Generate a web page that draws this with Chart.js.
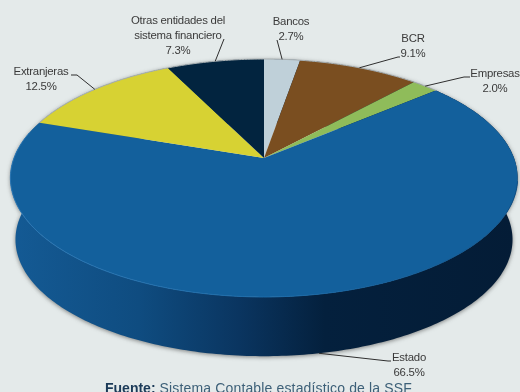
<!DOCTYPE html>
<html>
<head>
<meta charset="utf-8">
<title>Tenencia</title>
<script src="https://cdn.jsdelivr.net/npm/chart.js@4"></script>
<style>
  html, body { margin: 0; padding: 0; background: #e4eaea; overflow: hidden; }
  canvas { display: block; }
</style>
</head>
<body>
<canvas id="myChart" width="520" height="392"></canvas>
<script>
const categories = ["Bancos", "BCR", "Empresas", "Estado", "Extranjeras", "Otras entidades del sistema financiero"];
const shares = [2.7, 9.1, 2.0, 66.5, 12.5, 7.3];
const sliceColors = ["#bfd0d9", "#7a4e20", "#8fbc5a", "#13609c", "#d7d233", "#02243f"];
const footerBold = "Fuente:";
const footerRest = " Sistema Contable estadístico de la SSF";

// label anchors: text lines, centre x, first baseline, elbow of the leader
const labelLines = [["Bancos", "2.7%"], ["BCR", "9.1%"], ["Empresas", "2.0%"], ["Estado", "66.5%"], ["Extranjeras", "12.5%"], ["Otras entidades del", "sistema financiero", "7.3%"]];
const labelX = [291, 413, 495, 409, 41, 178];
const labelY = [25, 42, 77, 361, 75, 24];
const leaderEnd = [[277, 40], [398, 57], [464, 77], [388, 361], [77, 75], [224, 39]];
const leaderTail = [[277, 40], [400, 57], [470, 77], [391, 361], [71, 75], [224, 39]];

// pie disc seen in perspective
const cx = 264, cy = 158, rx = 250, ry = 115.6, tilt = 0.168;
const wallDrop = 62, wallScale = 0.98;

function project(angle, r, drop, scale) {
  // chart.js angles start at -PI/2 for 12 o'clock
  const u = Math.cos(angle) * r, v = Math.sin(angle) * r;
  const d = 1 - tilt * v;
  return [cx + scale * rx * u / d, cy + drop + scale * ry * v / d];
}

function rimPoints(start, end, drop, scale) {
  const n = Math.max(2, Math.ceil((end - start) / 0.015));
  const pts = [];
  for (let i = 0; i <= n; i++) pts.push(project(start + (end - start) * i / n, 1, drop, scale));
  return pts;
}

function trace(ctx, pts) {
  pts.forEach((p, i) => i ? ctx.lineTo(p[0], p[1]) : ctx.moveTo(p[0], p[1]));
}

const disc3d = {
  id: "disc3d",
  beforeDatasetDraw() { return false; },
  afterDatasetsDraw(chart) {
    const ctx = chart.ctx;
    const arcs = chart.getDatasetMeta(0).data;
    ctx.save();

    // side wall
    const wall = ctx.createLinearGradient(14, 0, 515, 0);
    wall.addColorStop(0, "#145a94");
    wall.addColorStop(0.25, "#0f4c80");
    wall.addColorStop(0.45, "#0a3560");
    wall.addColorStop(0.62, "#04203d");
    wall.addColorStop(1, "#041c36");
    arcs.forEach((arc) => {
      const top = rimPoints(arc.startAngle, arc.endAngle, 0, 1);
      const low = rimPoints(arc.startAngle, arc.endAngle, wallDrop, wallScale);
      ctx.beginPath();
      trace(ctx, top.concat(low.reverse()));
      ctx.closePath();
      ctx.shadowColor = "rgba(40,40,40,0.55)";
      ctx.shadowBlur = 4;
      ctx.shadowOffsetY = 1;
      ctx.fillStyle = wall;
      ctx.fill();
    });
    ctx.shadowColor = "transparent";

    // top faces
    arcs.forEach((arc, i) => {
      ctx.beginPath();
      trace(ctx, [[cx, cy]].concat(rimPoints(arc.startAngle, arc.endAngle, 0, 1)));
      ctx.closePath();
      ctx.fillStyle = sliceColors[i];
      ctx.fill();
    });

    // thin grey edge along the back, lighter edge along the front
    const estado = arcs[3];
    ctx.lineWidth = 1;
    ctx.beginPath();
    trace(ctx, rimPoints(estado.endAngle, estado.startAngle + Math.PI * 2, 0, 1));
    ctx.strokeStyle = "#a9b0b2";
    ctx.stroke();
    ctx.beginPath();
    trace(ctx, rimPoints(estado.startAngle + 0.9, estado.endAngle - 0.1, 0, 1));
    const rim = ctx.createLinearGradient(14, 0, 515, 0);
    rim.addColorStop(0, "#2a76b4");
    rim.addColorStop(0.55, "#1a6aa8");
    rim.addColorStop(1, "#0f4f85");
    ctx.strokeStyle = rim;
    ctx.stroke();

    // leaders and labels
    ctx.strokeStyle = "#2e2e2e";
    ctx.fillStyle = "#3a3a3a";
    ctx.font = "11.4px 'Liberation Sans', Arial, sans-serif";
    ctx.letterSpacing = "-0.25px";
    ctx.textAlign = "center";
    ctx.textBaseline = "alphabetic";
    arcs.forEach((arc, i) => {
      const mid = (arc.startAngle + arc.endAngle) / 2;
      const onFront = Math.sin(mid) > 0.5;
      const from = onFront ? project(mid, 1, wallDrop, wallScale) : project(mid, 1, 0, 1);
      ctx.beginPath();
      trace(ctx, [from, leaderEnd[i], leaderTail[i]]);
      ctx.stroke();
      labelLines[i].forEach((line, j) => ctx.fillText(line, labelX[i], labelY[i] + j * 15));
    });

    // source line, cut by the bottom edge
    ctx.textAlign = "left";
    ctx.letterSpacing = "0px";
    ctx.font = "bold 14px 'Liberation Sans', Arial, sans-serif";
    ctx.fillStyle = "#1b3a58";
    ctx.fillText(footerBold, 105, 393);
    const w = ctx.measureText(footerBold).width;
    ctx.letterSpacing = "0.15px";
    ctx.font = "14px 'Liberation Sans', Arial, sans-serif";
    ctx.fillStyle = "#3d6078";
    ctx.fillText(footerRest, 105 + w, 393);
    ctx.restore();
  }
};

new Chart(document.getElementById("myChart"), {
  type: "pie",
  data: {
    labels: categories,
    datasets: [{ data: shares, backgroundColor: sliceColors, borderWidth: 0 }]
  },
  options: {
    responsive: false,
    animation: false,
    plugins: { legend: { display: false }, tooltip: { enabled: false } }
  },
  plugins: [disc3d]
});
</script>
</body>
</html>
